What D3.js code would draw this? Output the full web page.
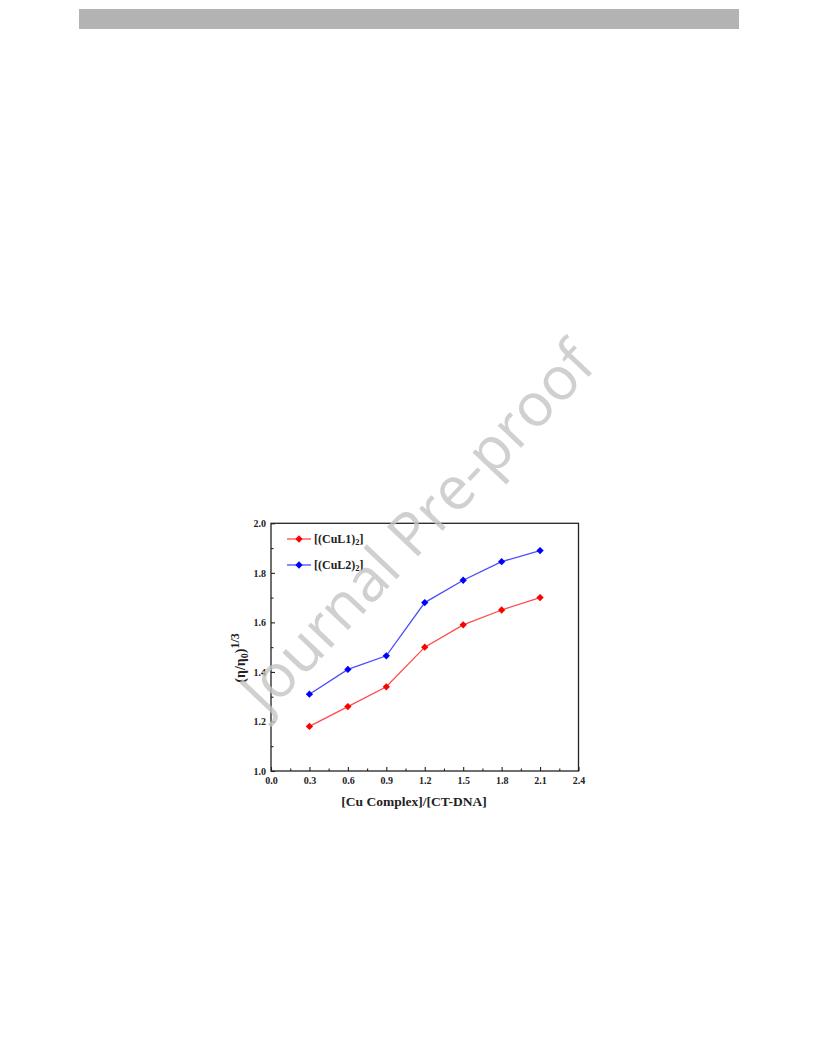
<!DOCTYPE html>
<html><head><meta charset="utf-8">
<script src="https://cdn.jsdelivr.net/npm/d3@7"></script>
<style>body{margin:0;background:#fff}</style>
</head><body>
<script>
const ratios = [0.3, 0.6, 0.9, 1.2, 1.5, 1.8, 2.1];
const cuL1 = [1.18, 1.26, 1.34, 1.50, 1.59, 1.65, 1.70];
const cuL2 = [1.31, 1.41, 1.465, 1.68, 1.77, 1.845, 1.89];
const xTicks = [0.0, 0.3, 0.6, 0.9, 1.2, 1.5, 1.8, 2.1, 2.4];
const yTicks = [1.0, 1.2, 1.4, 1.6, 1.8, 2.0];
const seriesNames = ["[(CuL1)", "[(CuL2)"];

const W = 816, H = 1056;
const svg = d3.select("body").append("svg").attr("width", W).attr("height", H);
svg.append("rect").attr("width", W).attr("height", H).attr("fill", "#fff");
// header bar
svg.append("rect").attr("x", 79).attr("y", 9).attr("width", 660).attr("height", 20).attr("fill", "#b3b3b3");

const L = 271, R = 578.5, T = 523.3, B = 771;
const x = d3.scaleLinear().domain([0, 2.4]).range([L, R]);
const y = d3.scaleLinear().domain([1.0, 2.0]).range([B, T]);
const font = "'Liberation Serif', 'Times New Roman', serif";

const g = svg.append("g");
// frame
g.append("rect").attr("x", L).attr("y", T).attr("width", R - L).attr("height", B - T)
  .attr("fill", "none").attr("stroke", "#222").attr("stroke-width", 1.3);

const xAxis = d3.axisBottom(x).tickValues(xTicks).tickSize(-4).tickFormat(d3.format(".1f")).tickPadding(6);
const xg = g.append("g").attr("transform", `translate(0,${B})`).call(xAxis);
const xMinor = d3.axisBottom(x).tickValues(d3.range(0.15, 2.4, 0.3)).tickSize(-2.5).tickFormat("");
g.append("g").attr("transform", `translate(0,${B})`).call(xMinor);
const yAxis = d3.axisLeft(y).tickValues(yTicks).tickSize(-4).tickFormat(d3.format(".1f")).tickPadding(5);
const yg = g.append("g").attr("transform", `translate(${L},0)`).call(yAxis);
const yMinor = d3.axisLeft(y).tickValues(d3.range(1.1, 2.0, 0.2)).tickSize(-2.5).tickFormat("");
g.append("g").attr("transform", `translate(${L},0)`).call(yMinor);
g.selectAll(".domain").remove();
g.selectAll(".tick line").attr("stroke", "#222").attr("stroke-width", 1.1);
g.selectAll(".tick text").attr("font-family", font).attr("font-weight", "bold")
  .attr("font-size", 10).attr("fill", "#222");
xg.selectAll(".tick text").attr("dy", "0.71em").attr("y", 6);

// lines
const colors = ["#ff0000", "#0000ff"];
const lineColors = ["#ff4a4a", "#4a4aff"];
[cuL1, cuL2].forEach((vals, i) => {
  const pts = ratios.map((r, j) => [r, vals[j]]);
  g.append("path").datum(pts)
    .attr("d", d3.line().x(d => x(d[0])).y(d => y(d[1])))
    .attr("fill", "none").attr("stroke", lineColors[i]).attr("stroke-width", 1.3);
  g.selectAll(null).data(pts).enter().append("path")
    .attr("d", d3.symbol(d3.symbolDiamond2, 34)())
    .attr("transform", d => `translate(${x(d[0])},${y(d[1])})`)
    .attr("fill", colors[i]);
});

// legend
const legY = [539, 565];
seriesNames.forEach((n, i) => {
  g.append("line").attr("x1", 287).attr("x2", 311).attr("y1", legY[i]).attr("y2", legY[i])
    .attr("stroke", lineColors[i]).attr("stroke-width", 1.3);
  g.append("path").attr("d", d3.symbol(d3.symbolDiamond2, 34)())
    .attr("transform", `translate(299,${legY[i]})`).attr("fill", colors[i]);
  const t = g.append("text").attr("x", 314).attr("y", legY[i] + 4)
    .attr("font-family", font).attr("font-weight", "bold").attr("font-size", 12).attr("fill", "#222");
  t.append("tspan").text(n);
  t.append("tspan").attr("font-size", 8.5).attr("dy", 1.5).text("2");
  t.append("tspan").attr("dy", -1.5).text("]");
});

// axis titles
g.append("text").attr("x", 414).attr("y", 806).attr("text-anchor", "middle")
  .attr("font-family", font).attr("font-weight", "bold").attr("font-size", 13.5).attr("fill", "#222")
  .text("[Cu Complex]/[CT-DNA]");
const yt = g.append("text").attr("transform", `translate(245,658) rotate(-90)`)
  .attr("text-anchor", "middle").attr("font-family", font).attr("font-weight", "bold")
  .attr("font-size", 14).attr("fill", "#222");
yt.append("tspan").text("(\u03b7/\u03b7");
yt.append("tspan").attr("font-size", 10).attr("dy", 3).text("0");
yt.append("tspan").attr("dy", -3).text(")");
yt.append("tspan").attr("font-size", 12).attr("dy", -6).text("1/3");

// watermark
svg.append("text").attr("transform", "translate(417,527) rotate(-46.5)")
  .attr("text-anchor", "middle").attr("dy", "0.35em")
  .attr("font-family", "'Open Sans', 'DejaVu Sans', sans-serif").attr("font-size", 60)
  .attr("fill", "#c4c4c4").attr("fill-opacity", 0.8)
  .text("Journal Pre-proof");
</script>
</body></html>
